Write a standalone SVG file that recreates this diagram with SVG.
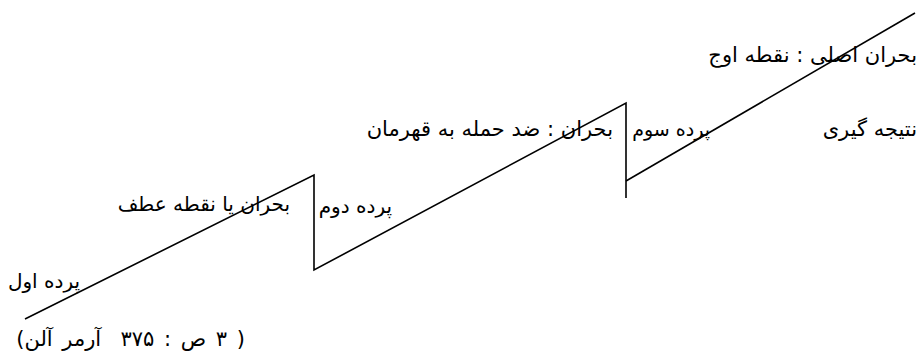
<svg xmlns="http://www.w3.org/2000/svg" width="919" height="360" viewBox="0 0 919 360">
<style>
.t{font-family:"DejaVu Sans","Noto Sans",sans-serif;font-size:21px;fill:#000;direction:rtl;unicode-bidi:embed;text-anchor:start}
.s{font-size:20px}
.c{white-space:pre;word-spacing:3px}
.l{fill:none;stroke:#000;stroke-width:1.6;stroke-linejoin:miter}
</style>
<rect width="919" height="360" fill="#fff"/>
<g id="connectors">
<polyline class="l" points="25,319 314,175 314,270 626,103 626,198"/>
<line class="l" x1="626" y1="181" x2="915" y2="13"/>
</g>
<g id="n1"><text class="t" x="917" y="62">بحران اصلی : نقطه اوج</text></g>
<g id="n2"><text class="t" x="917" y="136">نتیجه گیری</text></g>
<g id="n3"><text class="t s" x="710" y="136" style="font-size:19px">پرده سوم</text></g>
<g id="n4"><text class="t" x="613" y="136">بحران : ضد حمله به قهرمان</text></g>
<g id="n5"><text class="t s" x="392" y="213">پرده دوم</text></g>
<g id="n6"><text class="t s" x="290" y="211">بحران یا نقطه عطف</text></g>
<g id="n7"><text class="t s" x="80" y="288">پرده اول</text></g>
<g id="n8"><text class="t c" x="245" y="346" xml:space="preserve">( ۳ ص : ۳۷۵  آرمر آلن)</text></g>
</svg>
